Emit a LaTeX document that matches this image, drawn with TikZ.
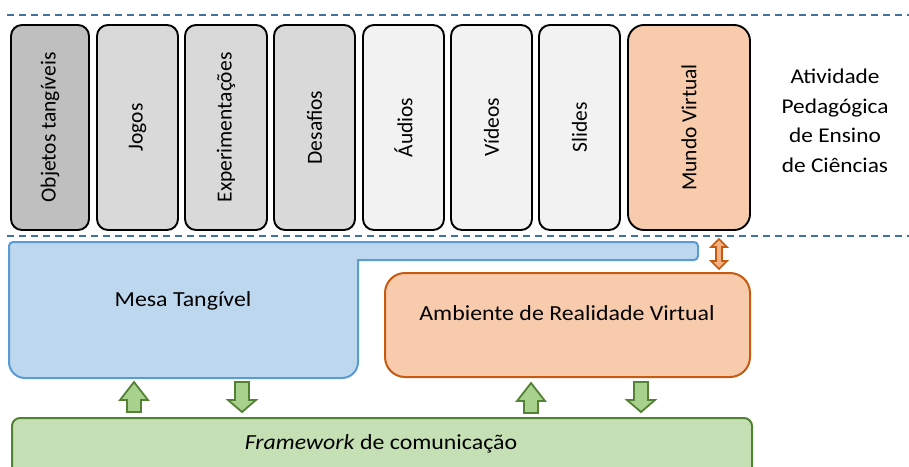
\documentclass[tikz,border=0pt]{standalone}
\usepackage{fontspec}
\setmainfont{Carlito}
\newfontfamily\widefont{Carlito}[FakeStretch=1.11]
\definecolor{dashblue}{HTML}{41719C}
\definecolor{gdark}{HTML}{BFBFBF}
\definecolor{gmid}{HTML}{D9D9D9}
\definecolor{glight}{HTML}{F2F2F2}
\definecolor{peach}{HTML}{F8CBAD}
\definecolor{orangeborder}{HTML}{C55A11}
\definecolor{mesafill}{HTML}{BDD7EE}
\definecolor{mesaborder}{HTML}{5B9BD5}
\definecolor{fwfill}{HTML}{C5E0B4}
\definecolor{fwborder}{HTML}{538135}
\definecolor{arrowfill}{HTML}{A9D18E}
\definecolor{arrowborder}{HTML}{548235}
\definecolor{darrowfill}{HTML}{F4B183}
\tikzset{
  topbox/.style={draw=black, line width=1.9pt, rounded corners=11pt, rotate=90,
    minimum width=205pt, inner sep=0pt, font=\fontsize{21.5}{25}\selectfont},
  sepline/.style={draw=dashblue, line width=1.6pt, dash pattern=on 7pt off 5pt},
  bigtext/.style={font=\widefont\fontsize{21.5}{25}\selectfont, inner sep=0pt},
  garrow/.style={fill=arrowfill, draw=arrowborder, line width=1.8pt, line join=miter},
  oarrow/.style={fill=darrowfill, draw=orangeborder, line width=1.6pt, line join=miter},
  pics/uparrow/.style={code={
    \draw[garrow] (-7,15) -- (-7,3) -- (-14,3) -- (0,-15) -- (14,3) -- (7,3) -- (7,15) -- cycle;}},
  pics/downarrow/.style={code={
    \draw[garrow] (-7,-15) -- (-7,3) -- (-14,3) -- (0,15) -- (14,3) -- (7,3) -- (7,-15) -- cycle;}},
}
\begin{document}
\begin{tikzpicture}[x=1pt, y=-1pt]
\clip (0,0) rectangle (909,466);
\useasboundingbox (0,0) rectangle (909,466);

% separator lines
\coordinate (s1a) at (7,15);
\coordinate (s1b) at (909,15);
\coordinate (s2a) at (7,236);
\coordinate (s2b) at (909,236);
\draw[sepline] (s1a) -- (s1b);
\draw[sepline] (s2a) -- (s2b);

% top boxes
\node[topbox, fill=gdark, minimum height=78pt] (b1) at (50,127.5) {Objetos tangíveis};
\node[topbox, fill=gmid, minimum height=81pt] (b2) at (137.5,127.5) {Jogos};
\node[topbox, fill=gmid, minimum height=82pt] (b3) at (226,127.5) {Experimentações};
\node[topbox, fill=gmid, minimum height=81pt] (b4) at (314.5,127.5) {Desafios};
\node[topbox, fill=glight, minimum height=81pt] (b5) at (403.5,127.5) {Áudios};
\node[topbox, fill=glight, minimum height=81pt] (b6) at (491.5,127.5) {Vídeos};
\node[topbox, fill=glight, minimum height=81pt] (b7) at (579.5,127.5) {Slides};
\node[topbox, fill=peach, minimum height=122pt, rounded corners=16pt] (b8) at (689,127.5) {Mundo Virtual};

\node[bigtext, align=center, font=\widefont\fontsize{21}{29.5}\selectfont] (ativ) at (835,121)
  {Atividade\\Pedagógica\\de Ensino\\de Ciências};

% Mesa tangivel
\draw[fill=mesafill, draw=mesaborder, line width=2pt]
  (9,246) arc (180:270:4) -- (694,242) arc (270:360:4) -- (698,256) arc (0:90:4)
  -- (358,260) -- (358,362) arc (0:90:16) -- (25,378) arc (90:180:16) -- cycle;
\node[bigtext] (mesa) at (183,301) {Mesa Tangível};

% Ambiente
\node[draw=orangeborder, fill=peach, line width=2pt, rounded corners=20pt,
  minimum width=365pt, minimum height=104pt, inner sep=0pt] (amb) at (567.5,325) {};
\node[bigtext] (ambt) at (567,313) {Ambiente de Realidade Virtual};

% Framework
\node[draw=fwborder, fill=fwfill, line width=2pt, rounded corners=8pt,
  minimum width=740pt, minimum height=70pt, inner sep=0pt] (fw) at (382,453) {};
\node[bigtext] (fwt) at (381,444) {\textit{Framework} de comunicação};

% double arrow
\draw[oarrow] (719,239) -- (727,247) -- (722,247) -- (722,261) -- (727,261) -- (719,269)
  -- (711,261) -- (716,261) -- (716,247) -- (711,247) -- cycle;

% green arrows
\pic (u1) at (134,397) {uparrow};
\pic (d1) at (242,397) {downarrow};
\pic (u2) at (531,398) {uparrow};
\pic (d2) at (641,397) {downarrow};
\end{tikzpicture}
\end{document}
